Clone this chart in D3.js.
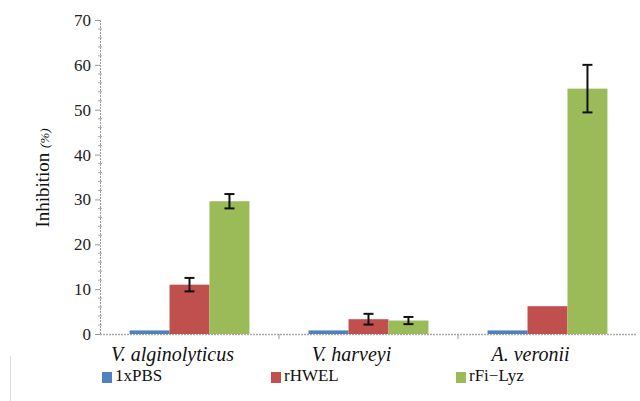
<!DOCTYPE html>
<html>
<head>
<meta charset="utf-8">
<script src="https://cdn.jsdelivr.net/npm/d3@7"></script>
<style>
  body { margin: 0; background: #fff; }
  svg { display: block; }
  svg text { font-family: "Liberation Serif", "Times New Roman", "DejaVu Serif", serif; }
</style>
</head>
<body>
<svg id="chart" width="640" height="401"></svg>
<script>
// data
var categories = ["V. alginolyticus", "V. harveyi", "A. veronii"];
var seriesNames = ["1xPBS", "rHWEL", "rFi\u2212Lyz"];
var seriesColors = ["#4F81BD", "#C0504D", "#9BBB59"];
var pbsValues = [0.8, 0.8, 0.8];
var hwelValues = [11.0, 3.3, 6.2];
var hwelErrors = [1.5, 1.2, 0];
var lyzValues = [29.6, 3.0, 54.7];
var lyzErrors = [1.6, 0.8, 5.3];
var yTicks = [0, 10, 20, 30, 40, 50, 60, 70];

var values = [pbsValues, hwelValues, lyzValues];
var errors = [null, hwelErrors, lyzErrors];

var svg = d3.select("#chart");
var mLeft = 100, mRight = 637, mTop = 20, mBottom = 334;

var x = d3.scaleBand().domain(categories).range([mLeft, mRight]).padding(0);
var x1 = d3.scaleBand().domain(d3.range(3)).range([0, x.bandwidth()]).paddingOuter(0.74).paddingInner(0);
var y = d3.scaleLinear().domain([0, 70]).range([mBottom, mTop]);

// y axis
var yAxis = svg.append("g").attr("transform", "translate(" + mLeft + ",0)")
    .call(d3.axisLeft(y).tickValues(yTicks).tickSize(5).tickPadding(4).tickFormat(d3.format("d")));
yAxis.attr("font-family", null);
yAxis.select(".domain").attr("stroke", "#999").attr("stroke-dasharray", "2,1");
yAxis.selectAll(".tick line").attr("stroke", "#999");
yAxis.selectAll("text").attr("font-size", 17).attr("fill", "#222");

// minor ticks
svg.append("g").selectAll("line")
    .data(d3.range(0, 71, 2).filter(function(d) { return d % 10 != 0; }))
    .join("line")
    .attr("x1", mLeft - 2).attr("x2", mLeft + 2)
    .attr("y1", function(d) { return y(d); }).attr("y2", function(d) { return y(d); })
    .attr("stroke", "#aaa");

// x axis
svg.append("line").attr("x1", mLeft).attr("x2", mRight)
    .attr("y1", mBottom + 0.5).attr("y2", mBottom + 0.5)
    .attr("stroke", "#aaa").attr("stroke-width", 1.5).attr("stroke-dasharray", "2,1");
svg.append("g").selectAll("line")
    .data(categories.slice(1))
    .join("line")
    .attr("x1", function(d) { return x(d); }).attr("x2", function(d) { return x(d); })
    .attr("y1", mBottom).attr("y2", mBottom + 5)
    .attr("stroke", "#999");

// category labels
svg.append("g").selectAll("text")
    .data(categories)
    .join("text")
    .attr("x", function(d) { return x(d) + x.bandwidth() / 2 - 17; })
    .attr("y", mBottom + 27)
    .attr("text-anchor", "middle")
    .attr("font-size", 20)
    .attr("font-style", "italic")
    .attr("fill", "#111")
    .text(function(d) { return d; });

// bars
var groups = svg.append("g").selectAll("g")
    .data(values)
    .join("g")
    .attr("fill", function(d, i) { return seriesColors[i]; });

groups.each(function(vals, si) {
    d3.select(this).selectAll("rect")
        .data(vals)
        .join("rect")
        .attr("x", function(d, ci) { return x(categories[ci]) + x1(si); })
        .attr("y", function(d) { return y(d); })
        .attr("width", x1.bandwidth())
        .attr("height", function(d) { return y(0) - y(d); });
});

// error bars
values.forEach(function(vals, si) {
    if (!errors[si]) return;
    var eg = svg.append("g").attr("stroke", "#111").attr("stroke-width", 2);
    vals.forEach(function(v, ci) {
        var e = errors[si][ci];
        if (!e) return;
        var cx = x(categories[ci]) + x1(si) + x1.bandwidth() / 2;
        eg.append("line").attr("x1", cx).attr("x2", cx).attr("y1", y(v + e)).attr("y2", y(v - e));
        eg.append("line").attr("x1", cx - 5).attr("x2", cx + 5).attr("y1", y(v + e)).attr("y2", y(v + e));
        eg.append("line").attr("x1", cx - 5).attr("x2", cx + 5).attr("y1", y(v - e)).attr("y2", y(v - e));
    });
});

// y label
var yl = svg.append("text")
    .attr("transform", "translate(49,178) rotate(-90)")
    .attr("text-anchor", "middle")
    .attr("font-size", 19)
    .attr("fill", "#111");
yl.append("tspan").text("Inhibition ");
yl.append("tspan").attr("font-size", 13).attr("font-style", "italic").text("(%)");

// legend box edge
svg.append("line").attr("x1", 10.5).attr("x2", 10.5).attr("y1", 356).attr("y2", 401)
    .attr("stroke", "#ddd");

var legendX = [102, 271, 456];
var legend = svg.append("g").selectAll("g")
    .data(seriesNames)
    .join("g")
    .attr("transform", function(d, i) { return "translate(" + legendX[i] + ",369)"; });
legend.append("rect").attr("y", 3).attr("width", 10).attr("height", 11)
    .attr("fill", function(d, i) { return seriesColors[i]; });
legend.append("text").attr("x", 13).attr("y", 12)
    .attr("font-size", 17).attr("fill", "#111")
    .text(function(d) { return d; });
</script>
</body>
</html>
